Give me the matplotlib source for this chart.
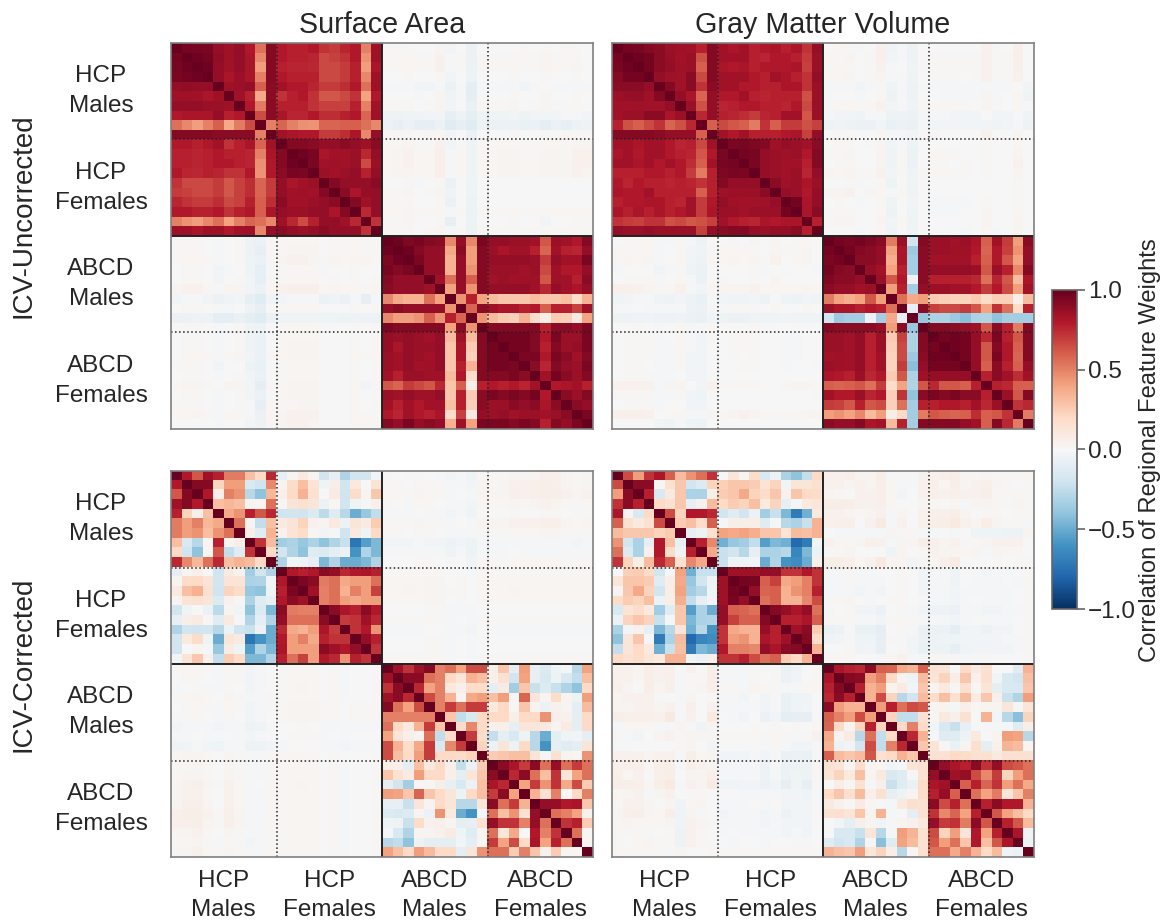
import matplotlib
matplotlib.use('Agg')
import matplotlib.pyplot as plt
import numpy as np

plt.rcParams['font.family'] = ['Liberation Sans', 'DejaVu Sans']
plt.rcParams['text.color'] = '#262626'

# all values are correlation x 100
# diagonal blocks are lower triangles, off-diagonal blocks are full rows

# surface area, ICV-uncorrected
sa_unc_hcp_m = [[100], [96, 100], [95, 97, 100], [94, 96, 97, 100], [88, 89, 88, 88, 100],
                [85, 85, 84, 82, 85, 100], [88, 88, 88, 86, 86, 85, 100], [80, 82, 82, 82, 88, 78, 80, 100],
                [55, 48, 42, 50, 60, 38, 52, 65, 100], [92, 92, 92, 92, 90, 90, 90, 90, 50, 100]]
sa_unc_hcp_mf = [[80, 78, 78, 80, 72, 70, 76, 80, 50, 85], [80, 78, 78, 76, 66, 68, 72, 80, 45, 85],
                 [78, 76, 76, 75, 66, 66, 70, 78, 42, 82], [80, 78, 78, 78, 66, 66, 70, 78, 48, 85],
                 [84, 80, 80, 76, 70, 70, 74, 80, 55, 85], [72, 78, 80, 72, 62, 62, 66, 72, 40, 80],
                 [78, 78, 78, 72, 68, 68, 68, 78, 50, 84], [82, 76, 76, 80, 74, 74, 78, 80, 58, 85],
                 [58, 50, 46, 45, 58, 58, 60, 60, 55, 48], [84, 82, 80, 80, 70, 70, 74, 82, 48, 88]]
sa_unc_hcp_f = [[100], [92, 100], [92, 97, 100], [90, 95, 94, 100], [88, 82, 84, 86, 100],
                [88, 84, 85, 84, 92, 100], [90, 84, 84, 86, 88, 90, 100], [88, 86, 86, 88, 88, 82, 92, 100],
                [85, 75, 65, 78, 88, 88, 85, 75, 100], [90, 88, 86, 88, 90, 88, 88, 88, 72, 100]]
sa_unc_abcd_m = [[100], [97, 100], [93, 97, 100], [95, 92, 94, 100], [92, 88, 88, 88, 100],
                 [90, 88, 88, 88, 85, 100], [48, 38, 35, 35, 55, 40, 100], [88, 90, 88, 88, 88, 88, 45, 100],
                 [48, 42, 42, 45, 60, 45, 78, 58, 100], [94, 92, 92, 92, 92, 92, 40, 90, 45, 100]]
sa_unc_abcd_mf = [[88, 88, 86, 86, 84, 62, 86, 84, 80, 92], [86, 82, 84, 84, 78, 58, 84, 78, 76, 88],
                  [88, 88, 88, 88, 86, 70, 88, 84, 84, 94], [86, 86, 86, 84, 86, 66, 85, 80, 80, 88],
                  [84, 86, 84, 85, 85, 62, 85, 84, 78, 90], [88, 88, 88, 88, 85, 75, 88, 84, 82, 88],
                  [32, 28, 28, 28, 32, 28, 28, 30, 18, 35], [85, 82, 82, 78, 80, 60, 78, 78, 68, 85],
                  [32, 26, 24, 35, 18, 6, 25, 24, 9, 40], [92, 92, 92, 92, 92, 78, 90, 90, 88, 94]]
sa_unc_abcd_f = [[100], [96, 100], [96, 96, 100], [96, 96, 94, 100], [92, 92, 94, 90, 100],
                 [80, 78, 80, 76, 84, 100], [94, 92, 94, 92, 96, 80, 100], [86, 86, 90, 88, 90, 82, 90, 100],
                 [86, 88, 84, 86, 86, 84, 86, 90, 100], [94, 94, 92, 94, 92, 78, 92, 88, 94, 100]]
sa_unc_cross = [[1, 1, 1, 0, 0, 3, -3, 0, -6, 0, 0, 0, 0, 1, 0, 2, 0, 1, 2, 0],
                [1, 2, 2, 1, 1, 4, -2, 1, -6, 1, 1, 1, 2, 1, 1, 3, 1, 1, 2, 0],
                [1, 2, 2, 1, 2, 4, -2, 1, -5, 1, 1, 1, 2, 1, 1, 3, 2, 1, 3, 0],
                [0, 0, 1, 0, 0, 2, -3, 0, -5, 0, 0, 0, 1, 0, 0, 1, 0, 0, 1, 0],
                [-2, -2, -2, -3, -3, -1, -6, -2, -10, -1, -2, -1, -1, -3, -1, 0, -1, -2, -1, -1],
                [0, 0, 0, -2, 0, 3, -4, -1, -9, 0, 0, 0, 1, 0, 0, 3, 0, 0, 2, 0],
                [1, 1, 1, 0, 1, 3, -3, 0, -7, 1, 1, 1, 3, 0, 1, 3, 1, 1, 2, 0],
                [-5, -5, -4, -4, -3, -3, -8, -5, -10, -4, -4, -4, -3, -5, -3, -3, -3, -2, -1, -3],
                [-6, -8, -6, -8, -8, -6, -12, -8, -12, -5, -6, -6, -6, -7, -6, -10, -6, -8, -6, -5],
                [1, 1, 1, 0, 1, 2, -3, 0, -6, 0, 0, 0, 1, 0, 0, 1, 0, 1, 2, 1],
                [2, 2, 3, 1, 1, 4, -3, 1, -4, 1, 2, 2, 2, 1, 1, 2, 2, 2, 3, 3],
                [2, 3, 4, 2, 2, 5, -2, 2, -4, 2, 2, 3, 3, 2, 2, 3, 3, 2, 4, 4],
                [2, 3, 4, 2, 2, 5, -2, 2, -4, 2, 2, 3, 3, 2, 2, 3, 3, 3, 4, 4],
                [2, 3, 3, 2, 2, 5, -2, 2, -4, 2, 2, 3, 3, 2, 2, 3, 3, 3, 4, 3],
                [0, 0, 1, -1, 0, 2, -6, 0, -4, 0, 0, 0, 0, 0, 0, 0, 0, 0, 0, 0],
                [1, 2, 3, 0, 1, 3, -4, 0, -4, 0, 0, 0, 0, 0, 0, 0, 0, 0, 0, 0],
                [1, 1, 2, 0, 0, 2, -6, 0, -5, 0, 0, 0, 0, 0, 0, 0, 0, 0, 0, 0],
                [2, 2, 3, 1, 1, 2, -2, 1, -5, 1, 1, 1, 2, 1, 1, 2, 2, 2, 2, 2],
                [1, 1, 3, 0, 0, 1, -8, 0, -5, 0, 0, 0, 1, 0, 0, -3, 0, 0, 1, 1],
                [1, 1, 1, 0, 1, 3, -2, 1, -5, 1, 1, 1, 2, 1, 1, 1, 1, 1, 1, 1]]

# gray matter volume, ICV-uncorrected
gm_unc_hcp_m = [[100], [96, 100], [95, 97, 100], [92, 96, 96, 100], [90, 90, 90, 88, 100],
                [86, 87, 88, 85, 92, 100], [85, 84, 85, 84, 84, 88, 100], [84, 86, 86, 90, 90, 82, 86, 100],
                [78, 64, 60, 66, 72, 58, 64, 75, 100], [92, 92, 92, 92, 90, 88, 88, 88, 60, 100]]
gm_unc_hcp_mf = [[84, 82, 84, 78, 80, 82, 78, 82, 72, 88], [84, 84, 84, 78, 76, 80, 80, 78, 70, 86],
                 [82, 80, 82, 78, 80, 80, 80, 82, 68, 86], [84, 84, 84, 80, 78, 84, 82, 78, 72, 88],
                 [84, 84, 80, 80, 78, 78, 82, 82, 72, 86], [80, 80, 84, 78, 76, 78, 78, 78, 64, 86],
                 [76, 78, 80, 80, 78, 78, 76, 80, 66, 86], [78, 76, 74, 70, 76, 78, 84, 84, 62, 86],
                 [66, 62, 60, 52, 72, 60, 70, 70, 64, 68], [84, 80, 84, 78, 78, 78, 80, 82, 68, 88]]
gm_unc_hcp_f = [[100], [94, 100], [95, 96, 100], [93, 95, 94, 100], [92, 88, 88, 88, 100],
                [85, 86, 86, 86, 90, 100], [88, 85, 84, 84, 85, 88, 100], [86, 86, 84, 86, 86, 86, 96, 100],
                [84, 80, 78, 76, 82, 80, 82, 82, 100], [90, 92, 92, 88, 86, 88, 88, 90, 78, 100]]
gm_unc_abcd_m = [[100], [96, 100], [94, 96, 100], [96, 92, 90, 100], [93, 90, 90, 88, 100],
                 [90, 88, 88, 84, 86, 100], [52, 40, 36, 40, 62, 42, 100], [86, 82, 82, 78, 80, 78, 55, 100],
                 [-20, -36, -34, -34, -5, -34, 38, -8, 100], [92, 90, 90, 90, 90, 88, 42, 90, -38, 100]]
gm_unc_abcd_mf = [[86, 86, 84, 86, 82, 60, 84, 70, 42, 90], [86, 86, 85, 85, 80, 58, 80, 68, 45, 88],
                  [84, 84, 84, 84, 78, 60, 80, 62, 40, 88], [88, 88, 88, 88, 86, 62, 86, 78, 48, 92],
                  [78, 78, 78, 78, 75, 55, 76, 62, 32, 82], [86, 86, 84, 84, 80, 70, 80, 65, 42, 84],
                  [26, 24, 22, 22, 26, 18, 24, 24, 6, 32], [68, 66, 66, 70, 62, 40, 72, 55, 20, 78],
                  [-32, -32, -36, -42, -32, -30, -40, -34, -35, -34], [92, 92, 90, 88, 85, 62, 90, 78, 52, 92]]
gm_unc_abcd_f = [[100], [96, 100], [97, 97, 100], [96, 96, 96, 100], [88, 88, 88, 88, 100],
                 [75, 62, 62, 60, 78, 100], [94, 92, 94, 90, 90, 78, 100], [78, 80, 80, 78, 84, 75, 86, 100],
                 [62, 60, 58, 60, 74, 60, 62, 72, 100], [92, 92, 92, 88, 84, 60, 92, 75, 52, 100]]
gm_unc_cross = [[0, 2, 1, -2, 0, 5, -4, -2, -5, 0, 0, 0, 0, 0, 0, 4, 1, 0, 5, 0],
                [2, 1, 3, 0, 1, 5, -3, -1, -5, 0, 1, 1, 1, 1, 1, 4, 1, 1, 5, 0],
                [1, 2, 2, 0, 1, 4, -2, 0, -4, 1, 1, 1, 1, 1, 1, 4, 1, 1, 5, 0],
                [2, 2, 3, 0, 2, 3, -2, -1, -4, 0, 1, 1, 1, 0, 1, 4, 1, 1, 4, 0],
                [-1, -1, -1, -3, -1, 1, -4, -2, -5, -1, -1, -1, -1, -2, -1, -1, -1, -1, 0, -3],
                [-1, 0, 0, -2, 0, 2, -5, -1, -5, 0, 0, -1, -1, -2, -1, 3, -1, 0, 2, -4],
                [1, 2, 2, 1, 2, 4, -3, -1, -4, 2, 2, 2, 2, 1, 0, 3, 1, 0, 2, -1],
                [-2, -3, -3, -4, -1, -1, -5, -5, -6, -2, -2, -2, -3, -3, -3, 0, -3, -3, -1, -4],
                [-5, -4, -5, -6, -6, -3, -7, -6, -7, -2, -3, -3, -3, -3, -3, -3, -4, -3, -1, -5],
                [0, 1, 1, 0, 0, 2, -1, -1, -3, 1, 1, 0, 0, 0, 0, 4, 0, 0, 3, 0],
                [0, 2, 2, 0, 1, 3, -3, -1, -5, 0, 0, 0, 0, 0, 0, 1, 0, 0, 2, 0],
                [1, 2, 3, 0, 0, 3, -4, 1, -6, 0, 2, 2, 1, 0, 0, 1, 0, 0, 3, 0],
                [0, 1, 2, 0, 0, 3, -4, 1, -6, 0, 1, 1, 0, 1, 0, 1, 0, 0, 4, 0],
                [3, 2, 3, 1, 1, 4, -3, 1, -4, 1, 2, 2, 1, 1, 0, 2, 0, 0, 3, 0],
                [0, 0, 1, -1, 0, 2, -5, 0, -4, 0, 0, 0, 0, 0, 0, 0, 0, 0, 1, 0],
                [3, 3, 4, 0, 3, 2, -2, 2, -4, 0, 0, 0, 0, 0, 0, 0, 0, 0, 1, 0],
                [0, 1, 0, -1, 0, 2, -4, 0, -3, 0, -1, -1, -1, -1, 0, 1, 0, 0, 1, 0],
                [1, 1, 2, 0, 0, 2, -5, 0, -4, 0, -1, -1, -1, 0, 0, 3, 0, 0, 2, 0],
                [1, 3, 3, 0, 0, 3, -3, 2, -4, 0, 0, 0, 0, 0, 0, 3, 0, 0, 3, 0],
                [0, 0, 0, -1, 0, 2, -4, 0, -4, 0, 0, 0, 0, -1, 0, 2, -2, 0, 3, 0]]

# surface area, ICV-corrected
sa_cor_hcp_m = [[100], [80, 100], [62, 92, 100], [85, 92, 80, 100], [78, 22, 5, 30, 100],
                [52, 42, 50, 33, 38, 100], [52, 42, 45, 30, 45, 55, 100], [30, -15, -28, 3, 78, 3, 6, 100],
                [20, -20, -40, 2, 62, -25, -12, 72, 100], [75, 48, 33, 55, 75, 30, 35, 32, 20, 100]]
sa_cor_hcp_mf = [[-8, 3, 10, 3, -18, -8, -30, -18, -18, -3], [3, 18, 30, 14, -4, 6, -18, 10, 0, 14],
                 [5, 20, 35, 15, 0, 8, -20, 18, 3, 27], [1, 13, 15, 12, -6, 2, -18, -4, -2, 5],
                 [-20, -18, -20, -14, -26, -12, -28, -50, -38, -25], [9, 13, 22, 4, 3, 10, -6, 12, 8, 25],
                 [4, 14, 18, 1, -3, -2, -20, 9, -4, 20], [-35, -32, -38, -32, -40, -30, -22, -72, -55, -45],
                 [-18, -30, -40, -12, -14, -10, -6, -60, -30, -45], [-30, -3, -4, -8, -45, -30, -50, -50, -45, -30]]
sa_cor_hcp_f = [[100], [80, 100], [78, 94, 100], [80, 90, 85, 100], [90, 52, 50, 50, 100],
                [88, 55, 55, 55, 90, 100], [75, 38, 35, 42, 82, 70, 100], [80, 42, 50, 38, 78, 72, 72, 100],
                [82, 42, 42, 42, 90, 85, 80, 88, 100], [78, 55, 68, 42, 80, 75, 45, 78, 72, 100]]
sa_cor_abcd_m = [[100], [85, 100], [72, 90, 100], [85, 90, 75, 100], [92, 55, 40, 65, 100],
                 [50, 50, 50, 50, 50, 100], [55, 20, 10, 35, 70, 28, 100], [40, 12, 5, 3, 55, -25, 18, 100],
                 [65, 35, 18, 38, 70, -15, 48, 70, 100], [65, 30, 18, 42, 70, 20, 20, 18, 22, 100]]
sa_cor_abcd_mf = [[6, 28, -10, 42, -8, -14, -4, -2, -28, 40], [5, 15, -18, 40, -8, -15, -5, -15, -25, 30],
                  [-10, 8, -35, 28, -22, -14, -22, -30, -40, 20], [30, 42, 1, 58, 12, 3, 18, 3, -5, 42],
                  [10, 20, 1, 28, 3, -6, 4, 3, -10, 32], [20, 20, 6, 20, 20, 45, 5, 4, -10, 20],
                  [5, 5, -8, 12, 12, 10, 3, 8, -10, 20], [-24, -10, -15, -5, -28, -50, -10, -4, -3, -10],
                  [-6, 12, -6, 20, -28, -60, -8, -12, -10, 12], [25, 28, 30, 30, 12, -2, 15, 3, 2, 45]]
sa_cor_abcd_f = [[100], [90, 100], [82, 75, 100], [70, 90, 40, 100], [90, 55, 70, 35, 100],
                 [55, 30, 45, 15, 88, 100], [88, 72, 72, 50, 88, 55, 100], [55, 12, 38, 0, 80, 50, 72, 100],
                 [70, 40, 65, 20, 82, 40, 78, 55, 100], [55, 55, 25, 50, 28, 4, 25, 2, 2, 100]]
sa_cor_cross = [[1, 0, -1, 1, 0, -1, -3, -1, -4, 2, 2, 2, 3, 3, 3, 5, 5, 3, 2, 3],
                [2, 1, 0, 2, 1, 1, -2, -1, -3, 3, 2, 3, 4, 4, 5, 6, 5, 3, 2, 3],
                [2, 2, 1, 3, 2, 2, -1, 0, -2, 3, 3, 3, 5, 4, 5, 6, 6, 4, 3, 4],
                [1, 0, -1, 2, 1, 0, -2, -1, -3, 2, 2, 2, 3, 2, 3, 4, 3, 2, 1, 2],
                [-1, -1, -2, 0, -1, -2, -3, -2, -4, 0, 0, 0, 1, 0, 0, 1, 1, 0, -1, 1],
                [2, 1, 1, 3, 2, 1, -1, 0, -1, 3, 3, 3, 4, 4, 4, 5, 5, 3, 2, 3],
                [1, 1, 0, 1, 1, 0, -2, -1, -2, 1, 1, 1, 2, 2, 2, 3, 3, 1, 1, 1],
                [-3, -3, -3, -2, -3, -3, -5, -3, -5, -2, -2, -2, -1, -2, -2, -1, -2, -2, -3, -2],
                [-2, -2, -2, -1, -2, -2, -4, -2, -5, -1, -1, -1, 0, -1, -1, -1, -1, -2, -2, -1],
                [0, 0, 0, 1, 1, 0, -2, 0, -3, 2, 1, 1, 2, 2, 2, 2, 2, 1, 1, 2],
                [1, 1, 1, 1, 2, 2, 0, 0, -1, 1, 1, 1, 1, 1, 1, 1, 1, 1, 1, 1],
                [2, 2, 2, 2, 3, 3, 0, 1, 0, 2, 2, 2, 2, 2, 2, 2, 2, 2, 2, 2],
                [2, 2, 3, 2, 3, 3, 1, 1, 0, 2, 2, 2, 3, 2, 2, 2, 2, 2, 2, 2],
                [2, 2, 2, 2, 3, 3, 0, 1, 0, 2, 2, 2, 2, 2, 2, 2, 2, 2, 2, 2],
                [0, 0, 0, 0, 1, 1, -2, -1, -2, 0, 0, 0, 0, 0, 0, 0, 0, 0, 0, 0],
                [1, 1, 1, 1, 2, 1, -1, 0, -1, 1, 1, 1, 1, 1, 1, 1, 1, 1, 1, 1],
                [-1, -1, -1, -1, 0, 0, -2, -1, -3, 0, -1, -1, -1, -1, -1, -1, -1, -1, -1, -1],
                [0, 0, 0, 0, 1, 1, -2, 0, -2, 0, 0, 0, 0, 0, 0, 0, 0, 0, 0, 0],
                [0, 0, 0, 0, 1, 1, -2, 0, -2, 0, 0, 0, 0, 0, 0, 0, 0, 0, 0, 0],
                [1, 1, 1, 1, 2, 2, -1, 0, -1, 1, 1, 1, 1, 1, 1, 1, 1, 1, 1, 1]]

# gray matter volume, ICV-corrected
gm_cor_hcp_m = [[100], [65, 100], [42, 90, 100], [72, 90, 78, 100], [82, 2, -15, 20, 100],
                [60, 15, 10, 15, 65, 100], [32, 27, 27, 27, 22, 26, 100], [45, -18, -32, -8, 80, 30, -8, 100],
                [55, -14, -32, 4, 80, 18, -5, 78, 100], [72, 22, 6, 32, 75, 60, 15, 48, 38, 100]]
gm_cor_hcp_mf = [[0, 12, 3, 18, -15, -6, -32, -40, -24, 20], [24, 28, 27, 25, 14, 22, -3, 12, 12, 15],
                 [25, 28, 38, 22, 18, 28, 4, 28, 20, 18], [20, 25, 22, 30, 10, 22, -8, -2, 10, 12],
                 [-18, -12, -18, -6, -35, -22, -45, -70, -48, 10], [-1, 6, 6, 7, -12, -2, -28, -32, -22, 35],
                 [40, 38, 40, 36, 28, 28, 14, 32, 30, 35], [-48, -38, -35, -25, -55, -45, -48, -78, -70, -3],
                 [-22, -18, -28, -8, -32, -32, -28, -65, -45, -6], [-22, -5, -4, -3, -50, -30, -60, -62, -50, 5]]
gm_cor_hcp_f = [[100], [85, 100], [85, 96, 100], [85, 95, 88, 100], [88, 60, 58, 55, 100],
                [88, 68, 60, 60, 92, 100], [72, 38, 35, 35, 88, 78, 100], [72, 42, 45, 35, 82, 78, 85, 100],
                [80, 50, 50, 48, 88, 82, 90, 92, 100], [72, 72, 78, 65, 55, 60, 25, 20, 35, 100]]
gm_cor_abcd_m = [[100], [82, 100], [78, 92, 100], [75, 90, 78, 100], [90, 42, 35, 35, 100],
                 [60, 50, 42, 65, 42, 100], [58, 20, 3, 22, 78, 22, 100], [38, 3, 8, -28, 55, -25, 20, 100],
                 [35, -5, -3, -18, 65, -25, 50, 75, 100], [60, 32, 28, 32, 62, 15, 20, 35, 28, 100]]
gm_cor_abcd_mf = [[15, 14, 0, 20, 9, 15, 0, 0, -12, 35], [14, 22, 7, 28, 4, 17, -3, -15, -18, 30],
                  [3, 10, 1, 16, 1, 12, -10, -15, -15, 28], [18, 30, 15, 32, 8, 28, 5, -22, -30, 42],
                  [3, 3, -2, 5, 2, 3, 3, 12, 1, 12], [2, 10, 5, 15, 0, 35, -3, -28, -42, 22],
                  [-3, -15, -22, -8, -2, -2, -1, -2, -12, 7], [-2, -12, -12, -5, 10, 0, 3, 42, 40, -28],
                  [14, 1, -7, 3, 16, -10, 4, 34, 32, 2], [15, 15, 20, 18, 15, 15, 10, 15, 15, 15]]
gm_cor_abcd_f = [[100], [88, 100], [82, 85, 100], [78, 88, 60, 100], [90, 65, 78, 55, 100],
                 [72, 48, 58, 40, 78, 100], [88, 70, 72, 52, 90, 62, 100], [65, 22, 42, 12, 80, 40, 78, 100],
                 [62, 42, 55, 28, 80, 30, 62, 82, 100], [55, 55, 38, 50, 35, 20, 32, -4, -6, 100]]
gm_cor_cross = [[4, 4, 5, 3, 3, 6, -2, 1, -2, 4, 4, 5, 7, 2, 2, 3, 2, 2, 1, 2],
                [4, 4, 3, 4, 3, 5, 2, -1, -1, 4, 5, 2, 6, 3, 4, 5, 3, 1, 0, 1],
                [3, 2, 0, 4, 4, 5, 2, -3, 0, 4, 5, 4, 5, 4, 4, 6, 2, 2, 2, 2],
                [7, 7, 7, 4, 4, 5, 2, 0, 0, 3, 2, 0, 2, -1, 3, 3, 2, -1, 3, 2],
                [4, 4, 3, 1, 3, 4, -2, 3, 0, 4, 5, 5, 6, 3, 0, 2, 2, 0, 1, 1],
                [4, 5, 5, 0, 4, 9, -2, 4, 0, 4, 6, 6, 10, 4, 3, 7, 3, 1, 1, -1],
                [0, -1, -1, -1, -1, -1, 3, 1, 2, -1, -1, 0, -1, 0, -4, -4, -4, -5, -5, 3],
                [4, 2, 1, 3, 5, 4, -1, 3, 3, 6, 5, 3, 4, 1, 2, 3, 4, 4, 4, 0],
                [0, 2, 3, 0, 0, 0, -4, 3, 0, 2, 4, 3, 3, 2, 3, -1, 3, 2, 2, 0],
                [6, 6, 5, 2, 4, 10, 3, 3, -3, 3, 3, 5, 8, 0, 0, 0, 1, 0, 1, 1],
                [-2, -1, 2, -1, -1, 0, 0, 1, 0, -3, -2, -1, -4, 0, -1, -3, -1, -1, 0, 1],
                [-2, -1, 1, -2, -2, -1, 0, 1, 0, -3, -1, -1, -4, 0, -1, -1, -1, 0, -1, 1],
                [-2, -2, -1, -3, -2, -3, 0, 1, 0, -3, -1, -1, -3, -1, -1, -2, -1, -1, 0, 1],
                [1, 1, 3, 0, -1, 0, 1, 2, 0, -2, -1, -1, -3, -1, 0, -2, -1, -1, 0, 1],
                [-2, 0, 2, -3, -3, -6, 0, 1, -2, -3, -5, -5, -6, -2, -2, -3, -3, -1, -1, 1],
                [1, 1, 1, -1, -2, -3, 1, 2, 1, -2, -1, -2, -3, -1, 0, -2, -1, -1, 0, 1],
                [-7, -6, -2, -7, -7, -10, 0, 1, -2, -7, -6, -6, -9, -3, -3, -6, -3, -3, 0, 1],
                [-4, -3, -1, -4, -4, -8, 1, -1, -3, -6, -5, -4, -4, -3, -3, -3, -3, -2, -1, 2],
                [0, 0, 2, -4, -3, -8, 0, 1, -3, -7, -5, -5, -8, -4, -3, -3, -3, -3, -1, 2],
                [2, 2, 2, 0, 0, -1, 2, 4, -1, -1, 1, 1, 1, -1, -1, 1, 0, 0, 0, 1]]

column_titles = ['Surface Area', 'Gray Matter Volume']
row_titles = ['ICV-Uncorrected', 'ICV-Corrected']
group_labels = ['HCP\nMales', 'HCP\nFemales', 'ABCD\nMales', 'ABCD\nFemales']
cbar_ticks = [-1.0, -0.5, 0.0, 0.5, 1.0]


def tri(rows):
    m = np.zeros((10, 10))
    for i, row in enumerate(rows):
        m[i, :i + 1] = row
        m[:i + 1, i] = row
    return m


def build(mm, mf, ff, amm, amf, aff, cross):
    hcp = np.block([[tri(mm), np.array(mf)], [np.array(mf).T, tri(ff)]])
    abcd = np.block([[tri(amm), np.array(amf)], [np.array(amf).T, tri(aff)]])
    cross = np.array(cross)
    return np.block([[hcp, cross], [cross.T, abcd]]) / 100


panels = [
    build(sa_unc_hcp_m, sa_unc_hcp_mf, sa_unc_hcp_f, sa_unc_abcd_m, sa_unc_abcd_mf, sa_unc_abcd_f, sa_unc_cross),
    build(gm_unc_hcp_m, gm_unc_hcp_mf, gm_unc_hcp_f, gm_unc_abcd_m, gm_unc_abcd_mf, gm_unc_abcd_f, gm_unc_cross),
    build(sa_cor_hcp_m, sa_cor_hcp_mf, sa_cor_hcp_f, sa_cor_abcd_m, sa_cor_abcd_mf, sa_cor_abcd_f, sa_cor_cross),
    build(gm_cor_hcp_m, gm_cor_hcp_mf, gm_cor_hcp_f, gm_cor_abcd_m, gm_cor_abcd_mf, gm_cor_abcd_f, gm_cor_cross),
]

W, H = 1167, 922
fig = plt.figure(figsize=(W / 100, H / 100), dpi=100)

lefts = [171, 612]
tops = [43, 471]
pw, ph = 422, 386
centers = [4.5, 14.5, 24.5, 34.5]
row_title_y = [0.552, 0.5]

for k, data in enumerate(panels):
    r, c = k // 2, k % 2
    ax = fig.add_axes([lefts[c] / W, 1 - (tops[r] + ph) / H, pw / W, ph / H])
    im = ax.imshow(data, cmap='RdBu_r', vmin=-1, vmax=1, aspect='auto', interpolation='nearest')
    for pos in [9.5, 29.5]:
        ax.axhline(pos, color='#222222', lw=1.1, ls=':')
        ax.axvline(pos, color='#222222', lw=1.1, ls=':')
    ax.axhline(19.5, color='#222222', lw=1.4)
    ax.axvline(19.5, color='#222222', lw=1.4)
    for s in ax.spines.values():
        s.set_color('#808080')
        s.set_linewidth(1.2)
    ax.set_yticks([])
    ax.set_xticks([])
    if r == 0:
        ax.set_title(column_titles[c], fontsize=20.6, pad=7)
    else:
        ax.set_xticks(centers)
        ax.set_xticklabels(group_labels, fontsize=17.5, linespacing=1.45)
        ax.tick_params(axis='x', length=0, pad=9, colors='#262626')
    if c == 0:
        for y, lab in zip(centers, group_labels):
            ax.text(-0.166, y, lab, transform=ax.get_yaxis_transform(), ha='center', va='center',
                    fontsize=17.5, linespacing=1.45)
        ax.text(-0.35, row_title_y[r], row_titles[r], transform=ax.transAxes, rotation=90,
                ha='center', va='center', fontsize=20)

cax = fig.add_axes([1052 / W, 1 - 609 / H, 25 / W, 319 / H])
cb = fig.colorbar(im, cax=cax, ticks=cbar_ticks)
cb.ax.set_yticklabels(['\u22121.0', '\u22120.5', '0.0', '0.5', '1.0'], fontsize=17.5)
cb.ax.tick_params(length=6, width=1.2, color='#666666', labelcolor='#262626', pad=2)
cb.outline.set_edgecolor('#666666')
cb.outline.set_linewidth(1.2)
fig.text(1150 / W, 1 - 450 / H, 'Correlation of Regional Feature Weights', rotation=90,
         ha='center', va='center', fontsize=17.1)

fig.savefig('out.png', dpi=100)
